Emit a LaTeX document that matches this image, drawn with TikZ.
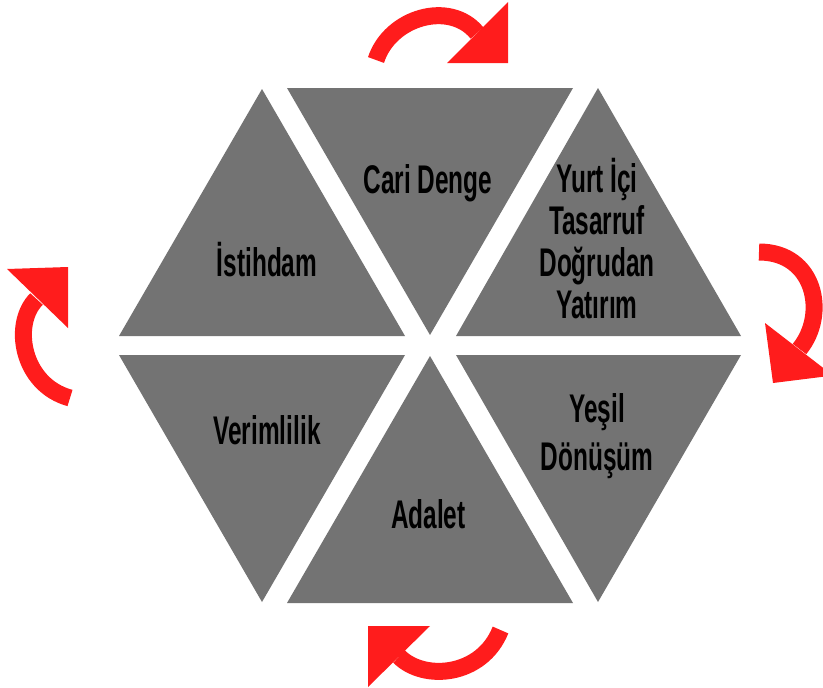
\documentclass[tikz,border=0pt]{standalone}
\usepackage{fontspec}
\newfontfamily\hexfont[FakeStretch=0.61]{Liberation Sans}
\definecolor{hexgray}{RGB}{115,115,115}
\definecolor{turnred}{RGB}{255,28,28}
\begin{document}
\begin{tikzpicture}[x=1pt, y=-1pt,
    tri/.style={fill=hexgray},
    band/.style={draw=turnred, line width=17pt},
    head/.style={fill=turnred},
    txt/.style={font=\hexfont\bfseries\fontsize{40}{42}\selectfont, text=black, align=center, anchor=base, inner sep=0pt},
    ]
    \useasboundingbox (0,0) rectangle (823,688);

    % Top row of triangles
    \fill[tri] (262,89) -- (405,336) -- (119,336) -- cycle;
    \fill[tri] (287,88) -- (573,88) -- (430,335) -- cycle;
    \fill[tri] (598,88) -- (741,336) -- (456,336) -- cycle;

    % Bottom row of triangles
    \fill[tri] (119,355) -- (405,355) -- (262,602) -- cycle;
    \fill[tri] (430,356) -- (573,603) -- (287,603) -- cycle;
    \fill[tri] (456,355) -- (741,355) -- (598,602) -- cycle;

    % Labels (base = last line)
    \node[txt] (cari) at (428,193.3) {Cari Denge};
    \node[txt] (istihdam) at (267,276.7) {İstihdam};
    \node[txt] (yurtici) at (597,318.3) {Yurt İçi\\Tasarruf\\Doğrudan\\Yatırım};
    \node[txt] (verim) at (267,444.3) {Verimlilik};
    \node[txt, font=\hexfont\bfseries\fontsize{40}{48}\selectfont] (yesil) at (597,470) {Yeşil\\Dönüşüm};
    \node[txt] (adalet) at (428.3,528.3) {Adalet};

    % Turning arrows
    \draw[band] (376,60) .. controls (390,17) and (450,0) .. (477,33);
    \fill[head] (447,63) -- (508,2) -- (508,63) -- cycle;

    \draw[band] (759,252) .. controls (815,252) and (828,314) .. (799.5,349);
    \fill[head] (765,323) -- (833,375.5) -- (773,383) -- cycle;

    \draw[band] (500.5,630) .. controls (482,676.5) and (424,681.5) .. (399,656.5);
    \fill[head] (430,626) -- (368,687) -- (368,626) -- cycle;

    \draw[band] (70,398) .. controls (22,385) and (11.5,324) .. (36.5,299);
    \fill[head] (7,269) -- (68,328) -- (68,267) -- cycle;
  \end{tikzpicture}
\end{document}
